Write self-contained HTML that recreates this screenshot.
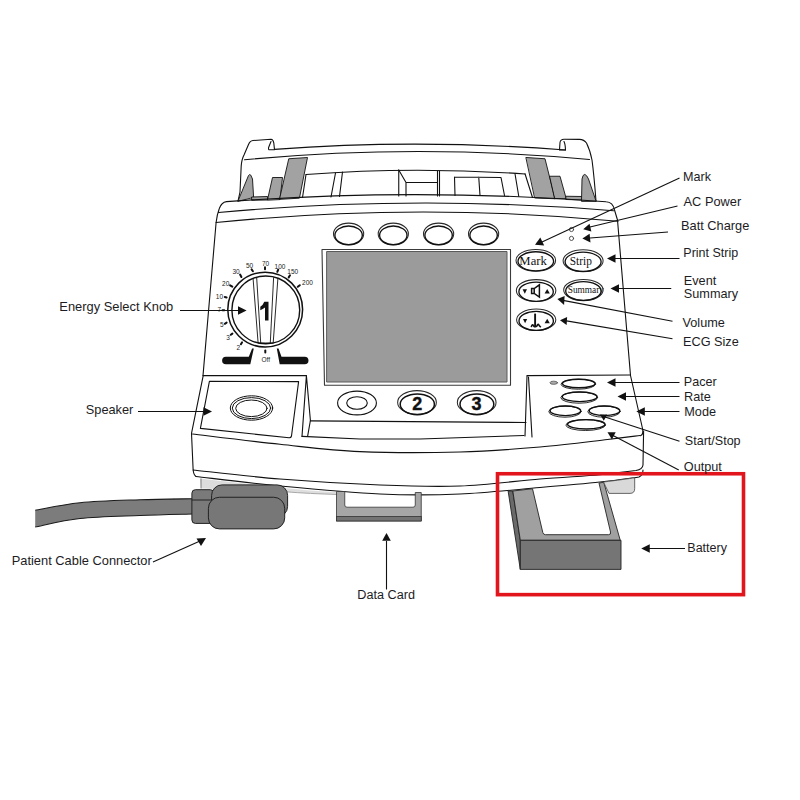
<!DOCTYPE html>
<html><head><meta charset="utf-8">
<style>
html,body{margin:0;padding:0;background:#fff;width:800px;height:800px;overflow:hidden}
svg{display:block}
.lbl{font-family:"Liberation Sans",sans-serif;fill:#1c1c24}
.ser{font-family:"Liberation Serif",serif;fill:#111}
.tk{font-family:"Liberation Sans",sans-serif;font-size:6.5px;fill:#222;text-anchor:middle}
</style></head>
<body>
<svg width="800" height="800" viewBox="0 0 800 800">
<g fill="none" stroke="#111" stroke-width="1.1" stroke-linejoin="round" stroke-linecap="round">

<!-- ===== HANDLE / PRINTER TOP ===== -->
<!-- left handle -->
<path d="M 238 201 L 240 192 L 241.2 166 Q 241.8 159 244 155 L 248.5 144.5 Q 250 140.8 253 140.5 L 271 139.3 Q 273.3 139.5 273.8 143 L 274.5 149.6 L 269 149.8 Q 268.3 149.5 268.6 147.5 L 271 141.5"/>
<!-- right handle -->
<path d="M 565.5 150 L 559.5 150 L 560 142.5 Q 560.5 139.2 564 139.2 L 579.5 139.4 Q 584 139.6 586.5 143 Q 590 150 592 160 Q 594 175 596 201 M 564 141.5 Q 565.3 144 565.5 150"/>
<!-- rim lines -->
<path d="M 274.5 149.4 Q 417 138.5 565.5 150"/>
<path d="M 244.5 159.8 Q 417 143.4 589.5 159.5"/>
<!-- printer top surface -->
<path d="M 306 174.5 Q 413 166.25 525 174"/>

<!-- white boxes -->
<path d="M 306 174.5 L 302.5 197.5"/>
<path d="M 335.5 173 L 331 197"/>
<path d="M 342.5 172 L 339.5 196.5"/>
<path d="M 398.75 170 L 398.75 196"/>
<path d="M 398.75 170 L 406 182.5 L 437.5 182.5 M 406 182.5 L 406 196"/>
<path d="M 437.5 171 L 437.5 196 M 439.5 171 L 439.5 196"/>
<path d="M 454.5 177 L 501 177.5 L 504.5 195.5 M 454.5 177 L 455 195.5 M 478.75 177.2 L 480 195.5"/>
<path d="M 515 173.75 L 518.75 196.25"/>
<path d="M 525 173.75 L 532.5 197.5"/>

<!-- gray pieces -->
<g fill="#a2a2a2" stroke-width="0.9">
<path d="M 238 201 L 248.5 175.5 Q 249.6 173.8 250.8 175.2 L 252.5 179 L 253.6 197 Z"/>
<path d="M 252 197 L 267.5 196.5 L 267.5 200 L 252 200.3 Z"/>
<path d="M 267.5 199.8 L 272.5 177.5 L 282.5 177.5 L 280 199.2 Z"/>
<path d="M 279.5 199 L 288.75 158.75 L 307.5 157.5 L 299.5 197.8 Z"/>
<path d="M 526.25 157.5 L 545 158.75 L 555 198.75 L 535 198 Z"/>
<path d="M 550 176.25 L 560 176.25 L 566.25 198.75 L 555 198.75 Z"/>
<path d="M 566.25 196.25 L 582.5 196.5 L 582.5 200 L 566.25 199.5 Z"/>
<path d="M 581.5 201 L 582 179 Q 582.8 174.3 584.8 174.4 Q 586.8 175 588.5 179 L 596 201 Z"/>
</g>

<!-- ===== BODY ===== -->
<!-- top outer contour + sides -->
<path d="M 203 375.6 L 216.1 222.5 Q 217.2 214 219.3 208.5 Q 221.5 202.2 226.5 201.6 Q 417 187.5 606 201.8 C 611 202 613.5 205 614.5 210 L 617.5 220 L 630.5 375.5"/>
<!-- bevel lines -->
<path d="M 218.5 212.5 Q 415.75 194.5 613.5 210.75"/>
<path d="M 216 222.5 Q 417 202.1 618 221.25"/>

<!-- top buttons -->
<g>
<ellipse cx="348.6" cy="234" rx="15.1" ry="10.9" stroke="#2a2a2a" stroke-width="1.05"/>
<ellipse cx="348.6" cy="235.3" rx="13.7" ry="9.3" stroke-width="1.35"/>
<ellipse cx="393.3" cy="234" rx="15.1" ry="10.9" stroke="#2a2a2a" stroke-width="1.05"/>
<ellipse cx="393.3" cy="235.3" rx="13.7" ry="9.3" stroke-width="1.35"/>
<ellipse cx="438.6" cy="234" rx="15.1" ry="10.9" stroke="#2a2a2a" stroke-width="1.05"/>
<ellipse cx="438.6" cy="235.3" rx="13.7" ry="9.3" stroke-width="1.35"/>
<ellipse cx="483.6" cy="234" rx="15.1" ry="10.9" stroke="#2a2a2a" stroke-width="1.05"/>
<ellipse cx="483.6" cy="235.3" rx="13.7" ry="9.3" stroke-width="1.35"/>
</g>

<!-- screen -->
<path d="M 322 249.5 L 510.5 249.5 L 510.5 385.2 L 324.5 385.2 Z" stroke="#3a3a3a"/>
<rect x="327" y="251.5" width="180" height="130.5" fill="#9b9b9b" stroke="#5a5a5a" stroke-width="1"/>

<!-- LEDs -->
<circle cx="571.5" cy="229.5" r="2.1" stroke="#444" stroke-width="0.9"/>
<circle cx="571.5" cy="238.4" r="2.1" stroke="#444" stroke-width="0.9"/>

<!-- right buttons -->
<g>
<ellipse cx="535.8" cy="260.3" rx="19.8" ry="10.9" stroke="#2a2a2a" stroke-width="1.05"/>
<ellipse cx="535.8" cy="261.3" rx="17.8" ry="9.5" stroke-width="1.35"/>
<ellipse cx="583.1" cy="260.8" rx="20" ry="11" stroke="#2a2a2a" stroke-width="1.05"/>
<ellipse cx="583.1" cy="261.8" rx="18" ry="9.6" stroke-width="1.35"/>
<ellipse cx="536.1" cy="290.5" rx="19.75" ry="10.9" stroke="#2a2a2a" stroke-width="1.05"/>
<ellipse cx="536.1" cy="291.7" rx="17.2" ry="9.6" stroke-width="1.35"/>
<ellipse cx="583.4" cy="290" rx="19.7" ry="10.6" stroke="#2a2a2a" stroke-width="1.05"/>
<ellipse cx="583.4" cy="291" rx="17.7" ry="9.4" stroke-width="1.35"/>
<ellipse cx="536.2" cy="319.8" rx="19.6" ry="10.7" stroke="#2a2a2a" stroke-width="1.05"/>
<ellipse cx="536.2" cy="320.9" rx="17.2" ry="9.5" stroke-width="1.35"/>
</g>

<!-- dial -->
<circle cx="265.2" cy="309.6" r="37.4" stroke-width="1.5"/>
<circle cx="265.8" cy="309.9" r="33.9" stroke-width="1.4"/>
<path d="M 253.1 278.7 L 258.1 342.9 M 256.7 278 L 260.7 342.9 M 273.6 277.7 L 270.3 342.9 M 277.9 278.3 L 273.2 342.9 M 258.5 343 L 273 343" stroke-width="0.9"/>

<!-- black bars -->
<path d="M 225.9 356.7 L 248.8 356.7 L 252.1 348.5 L 253.8 348.5 L 250.3 364.3 L 225.9 364.3 A 3.8 3.8 0 0 1 225.9 356.7 Z" fill="#111" stroke="none"/>
<path d="M 304.7 356.7 L 281.5 356.7 L 278.5 348.5 L 276.8 348.5 L 279.7 364.3 L 304.7 364.3 A 3.8 3.8 0 0 0 304.7 356.7 Z" fill="#111" stroke="none"/>

<!-- speaker box -->
<path d="M 203.2 375.6 L 306.4 375.6"/>
<path d="M 209.4 381.3 L 298.6 381.6 L 291.5 436 Q 291 438 289 437.8 L 200.4 428.4 Z"/>
<path d="M 306.4 375.6 L 302 436.4 M 306.4 375.6 L 310.4 420.5 L 307.6 436.4"/>
<ellipse cx="251.5" cy="408" rx="21.2" ry="12.2" stroke-width="1"/>
<ellipse cx="251.5" cy="408.1" rx="19.2" ry="10.5" stroke-width="1"/>
<ellipse cx="251.4" cy="408.3" rx="15.7" ry="8.3" stroke-width="1"/>

<!-- shelf under screen -->
<path d="M 310.4 420.9 L 526 422.5"/>
<path d="M 302 436.4 L 360 439 L 420 439 L 524 435.5"/>

<!-- bottom screen buttons -->
<ellipse cx="357" cy="403" rx="19.4" ry="11.9"/>
<ellipse cx="357" cy="403" rx="10.3" ry="6.3"/>
<ellipse cx="417" cy="402.4" rx="19.35" ry="11.8" stroke="#2a2a2a" stroke-width="1.05"/>
<ellipse cx="417.3" cy="404.3" rx="17.1" ry="10.4" stroke-width="1.5"/>
<ellipse cx="476.7" cy="402.4" rx="19.35" ry="11.8" stroke="#2a2a2a" stroke-width="1.05"/>
<ellipse cx="476.9" cy="404.3" rx="16.9" ry="10.4" stroke-width="1.5"/>

<!-- pacer panel -->
<path d="M 527 375.6 L 630 375"/>
<path d="M 527 376 L 525 436 M 528.5 377 L 532 437"/>
<path d="M 630.5 375.5 L 642.4 428 Q 643.8 434.5 640.5 435.8"/>
<g stroke-width="1.1">
<ellipse cx="553.75" cy="382.75" rx="3.8" ry="1.6" fill="#aaa" stroke="#555" stroke-width="0.8"/>
<ellipse cx="578.3" cy="384.2" rx="17.3" ry="5" stroke="#2a2a2a" stroke-width="1"/>
<ellipse cx="578.8" cy="383.5" rx="16.4" ry="4.3" stroke-width="1.4"/>
<ellipse cx="579.2" cy="397.6" rx="18.4" ry="5.6" stroke="#2a2a2a" stroke-width="1"/>
<ellipse cx="579.7" cy="396.8" rx="17.4" ry="4.8" stroke-width="1.4"/>
<ellipse cx="565" cy="411.6" rx="16.2" ry="5.6" stroke="#2a2a2a" stroke-width="1"/>
<ellipse cx="565.4" cy="410.8" rx="15.3" ry="4.8" stroke-width="1.4"/>
<ellipse cx="604" cy="411.6" rx="16.2" ry="5.6" stroke="#2a2a2a" stroke-width="1"/>
<ellipse cx="604.5" cy="410.8" rx="15.3" ry="4.8" stroke-width="1.4"/>
<ellipse cx="585.7" cy="425.1" rx="19.8" ry="5.4" stroke="#2a2a2a" stroke-width="1"/>
<ellipse cx="586.3" cy="424.3" rx="18.7" ry="4.7" stroke-width="1.4"/>
</g>

<!-- bottom band -->
<path d="M 203.2 375.6 L 191.5 433.3 L 193.1 469 Q 193.5 475 196 476.5"/>
<path d="M 192.50 434.00 C 207.08 435.72 252.08 441.37 280.00 444.30 C 307.92 447.23 330.00 450.32 360.00 451.60 C 390.00 452.88 430.00 452.77 460.00 452.00 C 490.00 451.23 515.42 449.08 540.00 447.00 C 564.58 444.92 590.83 441.42 607.50 439.50 C 624.17 437.58 634.58 436.17 640.00 435.50"/>
<path d="M 193.00 470.00 C 207.50 471.50 248.83 476.50 280.00 479.00 C 311.17 481.50 350.00 483.83 380.00 485.00 C 410.00 486.17 433.33 487.00 460.00 486.00 C 486.67 485.00 516.67 480.88 540.00 479.00 C 563.33 477.12 584.00 476.17 600.00 474.75 C 616.00 473.33 630.00 471.21 636.00 470.50 Q 642.5 469.5 643 465 L 643.6 431"/>
<path d="M 196.00 476.50 C 210.00 478.08 249.33 483.08 280.00 486.00 C 310.67 488.92 350.00 492.67 380.00 494.00 C 410.00 495.33 433.33 495.08 460.00 494.00 C 486.67 492.92 516.67 489.50 540.00 487.50 C 563.33 485.50 583.50 483.75 600.00 482.00 C 616.50 480.25 632.50 477.83 639.00 477.00 Q 643 475 643 470"/>
</g>

<!-- ===== BOTTOM ACCESSORIES ===== -->
<!-- light gray underside -->
<path d="M 200 478.5 C 230 482 260 485 286 488 L 286 492 C 260 490 230 489 216 489 L 201 488.5 Z" fill="#dcdcdc" stroke="none"/>
<path d="M 201 478.5 L 201 488.5" stroke="#666" stroke-width="0.8"/>
<path d="M 286 488.3 C 300 489.8 320 491.3 338 492.3 L 338 494.5 C 320 494 300 493 286 491.8 Z" fill="#dedede" stroke="none"/>
<path d="M 286 491.8 C 300 493 320 494 338 494.5" fill="none" stroke="#888" stroke-width="0.7"/>

<!-- data card -->
<path d="M 336.5 491.5 L 344.75 491.5 L 344.75 505 Q 344.75 507.2 347 507.2 L 413 507.2 Q 415.25 507.2 415.25 505 L 415.25 492.5 L 421.25 492.5 L 421.25 521 L 336.5 521 Z" fill="#a6a6a6" stroke="#333" stroke-width="0.8"/>
<rect x="336.5" y="516.5" width="84.75" height="4.5" fill="#737373" stroke="#333" stroke-width="0.8"/>

<!-- battery -->
<g stroke="#222" stroke-width="0.9" stroke-linejoin="round">
<path d="M 508.1 491 L 512.8 491 L 520.3 540.3 L 520.3 569.4 Z" fill="#6a6a6a"/>
<path d="M 512.8 491 L 532.5 488.75 L 542.8 532.5 Q 543.3 534.7 545.5 534.7 L 608.5 534.7 Q 611.25 534.7 610.5 532 L 599 483.1 L 603.75 482.2 L 620.25 540.3 L 520.3 540.3 Z" fill="#a0a0a0"/>
<rect x="520.3" y="540.3" width="100.7" height="29.1" fill="#757575"/>
</g>
<path d="M 603.5 482 C 616 480.5 630 478.5 634.7 477.8 L 634.7 488.5 Q 634.7 493.4 630 493.4 L 609 493.4 Z" fill="#d9d9d9" stroke="#444" stroke-width="0.8"/>

<!-- cable -->
<path d="M 35.20 510.30 C 42.67 509.04 62.53 504.51 80.00 502.75 C 97.47 500.99 121.25 500.43 140.00 499.75 C 158.75 499.07 183.75 498.88 192.50 498.70 L 192.5 514 C 183.75 514.25 158.75 514.75 140.00 515.50 C 121.25 516.25 97.47 516.60 80.00 518.50 C 62.53 520.40 42.67 525.50 35.20 526.90 Z" fill="#7c7c7c" stroke="none"/>
<path d="M 35.20 510.30 C 42.67 509.04 62.53 504.51 80.00 502.75 C 97.47 500.99 121.25 500.43 140.00 499.75 C 158.75 499.07 183.75 498.88 192.50 498.70 M 192.50 514.00 C 183.75 514.25 158.75 514.75 140.00 515.50 C 121.25 516.25 97.47 516.60 80.00 518.50 C 62.53 520.40 42.67 525.50 35.20 526.90" fill="none" stroke="#1a1a1a" stroke-width="1.05"/>
<!-- connector -->
<g stroke="#222" stroke-width="1">
<rect x="191.9" y="489.7" width="22" height="33.7" rx="3.5" fill="#7a7a7a"/>
<path d="M 191.9 500 L 213 500"/>
<rect x="211.6" y="484.9" width="76" height="32" rx="10.5" fill="#7a7a7a"/>
<rect x="208.4" y="497.25" width="76.3" height="31.65" rx="11" fill="#777"/>
</g>

<!-- red box -->
<rect x="497.5" y="473.75" width="246" height="120.9" fill="none" stroke="#e3151c" stroke-width="3.6"/>

<!-- ===== TEXT ===== -->
<text class="tk" x="249.5" y="268">50</text>
<text class="tk" x="265.5" y="265.5">70</text>
<text class="tk" x="280" y="268.5">100</text>
<text class="tk" x="292.7" y="274">150</text>
<text class="tk" x="307.5" y="285">200</text>
<text class="tk" x="236.1" y="274">30</text>
<text class="tk" x="225.7" y="285.9">20</text>
<text class="tk" x="219.4" y="298.8">10</text>
<text class="tk" x="219.4" y="312">7</text>
<text class="tk" x="221.8" y="327">5</text>
<text class="tk" x="228.1" y="340">3</text>
<text class="tk" x="238.4" y="350">2</text>
<text class="tk" x="265.7" y="362">Off</text>
<path d="M 264.3 301.7 L 268.5 301.7 L 268.5 320.5 L 265 320.5 L 265 307.6 Q 262.8 309.4 260.3 310.3 L 260.3 306.8 Q 263 305 264.3 301.7 Z" fill="#111"/>
<g stroke="#111" stroke-width="2" stroke-linecap="round">
<path d="M 251.6 269.4 L 252.9 271.3"/>
<path d="M 265 267.3 L 265 269.3"/>
<path d="M 278.2 269.6 L 277.3 271.8"/>
<path d="M 290 275.3 L 288.7 277.4"/>
<path d="M 299.8 285.2 L 297.8 286.8"/>
<path d="M 240.1 274.6 L 241.4 277"/>
<path d="M 230.1 285.3 L 232.3 286.6"/>
<path d="M 224.8 297 L 226.6 297.5"/>
<path d="M 222.5 310.3 L 224.3 310.3"/>
<path d="M 224.8 323.8 L 226.6 322.6"/>
<path d="M 230.8 334.8 L 232.4 333.6"/>
<path d="M 240.9 344.2 L 242 342.4"/>
<path d="M 265.3 350.6 L 265.3 352.6"/>
</g>

<text x="417.3" y="410.4" font-family="Liberation Sans" font-weight="bold" font-size="18" fill="#111" stroke="#111" stroke-width="0.4" text-anchor="middle">2</text>
<text x="476.5" y="410.4" font-family="Liberation Sans" font-weight="bold" font-size="18" fill="#111" stroke="#111" stroke-width="0.4" text-anchor="middle">3</text>

<text class="ser" x="533.1" y="265" font-size="12.5" text-anchor="middle" textLength="27.5" lengthAdjust="spacingAndGlyphs">Mark</text>
<text class="ser" x="580.8" y="265" font-size="12.5" text-anchor="middle" textLength="22.1" lengthAdjust="spacingAndGlyphs">Strip</text>
<text class="ser" x="585.9" y="292.5" font-size="9.6" text-anchor="middle" textLength="36.25" lengthAdjust="spacingAndGlyphs">Summary</text>
<!-- volume icon -->
<g fill="#111">
<polygon points="522.6,289.3 527,289.3 524.8,293.8"/>
<polygon points="544.6,293.6 549.8,293.6 547.2,288.9"/>
<polygon points="523,319 527.2,319 525.1,323.2"/>
<polygon points="544.6,323.2 549.8,323.2 547.2,318.8"/>
</g>
<path d="M 531.6 288.5 L 534.2 288.5 L 539.4 284.8 L 539.4 297.1 L 534.2 293.4 L 531.6 293.4 Z M 534.2 288.5 L 534.2 293.4" fill="none" stroke="#111" stroke-width="1.5" stroke-linejoin="miter"/>
<path d="M 535.1 313.6 L 535.1 326.5" stroke="#111" stroke-width="1.9"/>
<path d="M 531.3 327.2 Q 532 323.8 533.2 325.2 Q 534.2 327.2 535.1 326.6 Q 536.6 327.2 537.6 324.6 Q 538.6 323.6 539.2 325.6 L 540.8 327.2" fill="none" stroke="#111" stroke-width="1.6"/>

<g class="lbl">
<text x="683.05" y="181.25" font-size="12.6">Mark</text>
<text x="683.55" y="205.5" font-size="12.8">AC Power</text>
<text x="681.05" y="230" font-size="12.8">Batt Charge</text>
<text x="683.30" y="257" font-size="12.5">Print Strip</text>
<text x="683.80" y="285" font-size="12.7">Event</text>
<text x="683.80" y="298.25" font-size="12.7">Summary</text>
<text x="682.55" y="327" font-size="12.7">Volume</text>
<text x="683.05" y="346.25" font-size="12.7">ECG Size</text>
<text x="683.80" y="386.25" font-size="12.6">Pacer</text>
<text x="684.05" y="400.75" font-size="12.7">Rate</text>
<text x="684.30" y="415.5" font-size="12.7">Mode</text>
<text x="684.80" y="445" font-size="12.55">Start/Stop</text>
<text x="683.80" y="470.5" font-size="12.7">Output</text>
<text x="687.30" y="552" font-size="12.5">Battery</text>
<text x="59.30" y="310.6" font-size="12.9">Energy Select Knob</text>
<text x="85.80" y="413.6" font-size="12.75">Speaker</text>
<text x="11.70" y="565" font-size="12.86">Patient Cable Connector</text>
<text x="357.30" y="598.5" font-size="12.65">Data Card</text>
</g>

<!-- ===== ARROWS ===== -->
<g stroke="#111" stroke-width="1.1" fill="none">
<path d="M 180 310.5 L 240 310.5"/>
<path d="M 138 411.5 L 205 411.5"/>
<path d="M 153 562 L 200 541"/>
<path d="M 386.5 589.5 L 386.5 541"/>
<path d="M 679.5 178 L 542 242"/>
<path d="M 677.5 206 L 590 227"/>
<path d="M 668 232 L 590 238"/>
<path d="M 679.5 258.5 L 614 258.5"/>
<path d="M 671.25 288.5 L 617 288.5"/>
<path d="M 672.5 321.25 L 563 300.4"/>
<path d="M 672.5 338.75 L 565 320.6"/>
<path d="M 679.5 382.5 L 614 382.5"/>
<path d="M 679.5 396.5 L 624 396.5"/>
<path d="M 679.5 411.5 L 643 411.5"/>
<path d="M 679.5 441.25 L 605 417"/>
<path d="M 678.75 470 L 613 435.5"/>
<path d="M 685 548.5 L 648 548.5"/>
</g>
<g fill="#111">
<polygon points="246.6,310.5 238,306.2 238,314.8"/>
<polygon points="212,411.5 203.5,407.2 203.5,415.8"/>
<polygon points="206,538 196.5,538.5 201,546"/>
<polygon points="386.5,533.1 382.2,540.8 390.8,540.8"/>
<polygon points="535,244.8 540.3,237.6 544.2,245.6"/>
<polygon points="583.2,229.3 589.5,223.8 591.4,231.6"/>
<polygon points="582.4,238.5 589.6,233.8 590.5,242.6"/>
<polygon points="607,258.5 615.5,254.25 615.5,262.75"/>
<polygon points="610.5,288.5 619,284.2 619,292.8"/>
<polygon points="557.4,298.9 564.6,296 564.1,305.1"/>
<polygon points="560,320.2 567.1,316.9 566.6,324.9"/>
<polygon points="607,382.5 615.5,378.2 615.5,386.8"/>
<polygon points="617.5,396.5 626,392.25 626,400.75"/>
<polygon points="636.3,411.5 644.8,407.25 644.8,415.75"/>
<polygon points="600,414.4 607.2,414.4 603.8,420.8"/>
<polygon points="607.5,432.3 615.7,432.3 611.9,439.4"/>
<polygon points="641.25,548.5 649.75,544.2 649.75,552.8"/>
</g>
</svg>
</body></html>
